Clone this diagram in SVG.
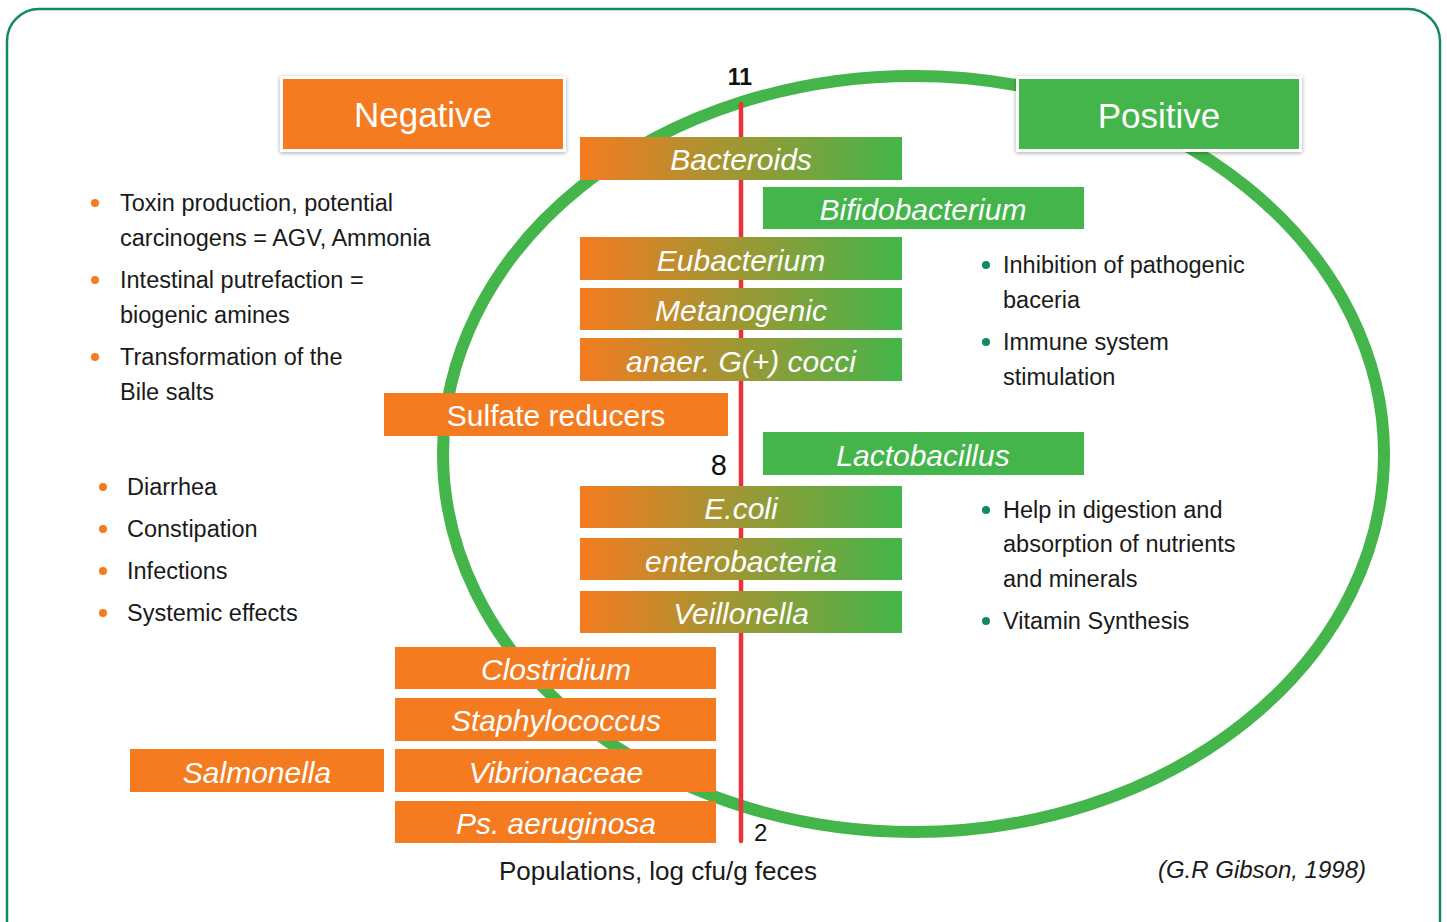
<svg xmlns="http://www.w3.org/2000/svg" width="1447" height="922" viewBox="0 0 1447 922">
<defs>
<linearGradient id="grad" x1="0" y1="0" x2="1" y2="0">
<stop offset="0" stop-color="#f47b20"/>
<stop offset="1" stop-color="#43b54a"/>
</linearGradient>
<filter id="sh" x="-10%" y="-20%" width="120%" height="150%">
<feDropShadow dx="0" dy="1" stdDeviation="2" flood-color="#000" flood-opacity="0.35"/>
</filter>
</defs>
<style>
text{font-family:"Liberation Sans",Arial,sans-serif;}
.bar{font-size:30px;font-style:italic;fill:#fff;text-anchor:middle;}
.barn{font-size:30px;fill:#fff;text-anchor:middle;}
.ttl{font-size:35px;fill:#fff;text-anchor:middle;}
.txt{font-size:23.5px;fill:#1a1a1a;}
.num{font-size:23px;fill:#111;}
.og{fill:#f47b20;}
.gr{fill:#43b54a;}
.gd{fill:url(#grad);}
.dotO{fill:#f47b20;}
.dotG{fill:#138a5b;}
</style>
<rect x="7" y="9" width="1433" height="960" rx="32" ry="32" fill="#fff" stroke="#138a5b" stroke-width="2.5"/>
<g id="ellipse">
<ellipse cx="913.5" cy="454" rx="470.5" ry="378" fill="none" stroke="#43b54a" stroke-width="12"/>
</g>
<g id="connectors">
<line x1="741" y1="104" x2="741" y2="841" stroke="#ee3338" stroke-width="4.5" stroke-linecap="round"/>
</g>
<g id="axis-labels">
<text class="num" x="740" y="85" text-anchor="middle" font-weight="bold">11</text>
<text class="num" x="727" y="475" text-anchor="end" style="font-size:29px">8</text>
<text class="num" x="754" y="841" style="font-size:24px">2</text>
</g>
<g id="negative">
<rect x="280" y="76" width="286" height="76" fill="#fff" filter="url(#sh)"/>
<rect x="283" y="79" width="280" height="70" class="og"/>
<text class="ttl" x="423" y="127">Negative</text>
</g>
<g id="positive">
<rect x="1016" y="76" width="286" height="76" fill="#fff" filter="url(#sh)"/>
<rect x="1019" y="79" width="280" height="70" class="gr"/>
<text class="ttl" x="1159" y="128">Positive</text>
</g>
<g id="bacteroids"><rect x="580" y="137" width="322" height="43" class="gd"/><text class="bar" x="741" y="170">Bacteroids</text></g>
<g id="bifidobacterium"><rect x="763" y="187" width="321" height="42" class="gr"/><text class="bar" x="923" y="220">Bifidobacterium</text></g>
<g id="eubacterium"><rect x="580" y="237" width="322" height="43" class="gd"/><text class="bar" x="741" y="271">Eubacterium</text></g>
<g id="metanogenic"><rect x="580" y="288" width="322" height="42" class="gd"/><text class="bar" x="741" y="321">Metanogenic</text></g>
<g id="cocci"><rect x="580" y="338" width="322" height="43" class="gd"/><text class="bar" x="741" y="372">anaer. G(+) cocci</text></g>
<g id="sulfate"><rect x="384" y="393" width="344" height="43" class="og"/><text class="barn" x="556" y="426">Sulfate reducers</text></g>
<g id="lactobacillus"><rect x="763" y="432" width="321" height="43" class="gr"/><text class="bar" x="923" y="466">Lactobacillus</text></g>
<g id="ecoli"><rect x="580" y="486" width="322" height="42" class="gd"/><text class="bar" x="741" y="519">E.coli</text></g>
<g id="enterobacteria"><rect x="580" y="538" width="322" height="42" class="gd"/><text class="bar" x="741" y="572">enterobacteria</text></g>
<g id="veillonella"><rect x="580" y="591" width="322" height="42" class="gd"/><text class="bar" x="741" y="624">Veillonella</text></g>
<g id="clostridium"><rect x="395" y="647" width="321" height="42" class="og"/><text class="bar" x="556" y="680">Clostridium</text></g>
<g id="staphylococcus"><rect x="395" y="698" width="321" height="43" class="og"/><text class="bar" x="556" y="731">Staphylococcus</text></g>
<g id="vibrionaceae"><rect x="395" y="749" width="321" height="43" class="og"/><text class="bar" x="556" y="783">Vibrionaceae</text></g>
<g id="salmonella"><rect x="130" y="749" width="254" height="43" class="og"/><text class="bar" x="257" y="783">Salmonella</text></g>
<g id="aeruginosa"><rect x="395" y="801" width="321" height="42" class="og"/><text class="bar" x="556" y="834">Ps. aeruginosa</text></g>
<g id="neg-effects1">
<circle cx="95" cy="203" r="4" class="dotO"/>
<text class="txt" x="120" y="211">Toxin production, potential</text>
<text class="txt" x="120" y="246">carcinogens = AGV, Ammonia</text>
<circle cx="95" cy="280" r="4" class="dotO"/>
<text class="txt" x="120" y="288">Intestinal putrefaction =</text>
<text class="txt" x="120" y="323">biogenic amines</text>
<circle cx="95" cy="357" r="4" class="dotO"/>
<text class="txt" x="120" y="365">Transformation of the</text>
<text class="txt" x="120" y="400">Bile salts</text>
</g>
<g id="neg-effects2">
<circle cx="103" cy="487" r="4" class="dotO"/>
<text class="txt" x="127" y="495">Diarrhea</text>
<circle cx="103" cy="529" r="4" class="dotO"/>
<text class="txt" x="127" y="537">Constipation</text>
<circle cx="103" cy="571" r="4" class="dotO"/>
<text class="txt" x="127" y="579">Infections</text>
<circle cx="103" cy="613" r="4" class="dotO"/>
<text class="txt" x="127" y="621">Systemic effects</text>
</g>
<g id="pos-effects1">
<circle cx="986" cy="265" r="4" class="dotG"/>
<text class="txt" x="1003" y="273">Inhibition of pathogenic</text>
<text class="txt" x="1003" y="308">baceria</text>
<circle cx="986" cy="342" r="4" class="dotG"/>
<text class="txt" x="1003" y="350">Immune system</text>
<text class="txt" x="1003" y="385">stimulation</text>
</g>
<g id="pos-effects2">
<circle cx="986" cy="510" r="4" class="dotG"/>
<text class="txt" x="1003" y="518">Help in digestion and</text>
<text class="txt" x="1003" y="552">absorption of nutrients</text>
<text class="txt" x="1003" y="587">and minerals</text>
<circle cx="986" cy="621" r="4" class="dotG"/>
<text class="txt" x="1003" y="629">Vitamin Synthesis</text>
</g>
<g id="footer">
<text class="txt" x="499" y="880" style="font-size:26px">Populations, log cfu/g feces</text>
<text class="txt" x="1366" y="878" text-anchor="end" font-style="italic" style="font-size:24px">(G.R Gibson, 1998)</text>
</g>
</svg>
